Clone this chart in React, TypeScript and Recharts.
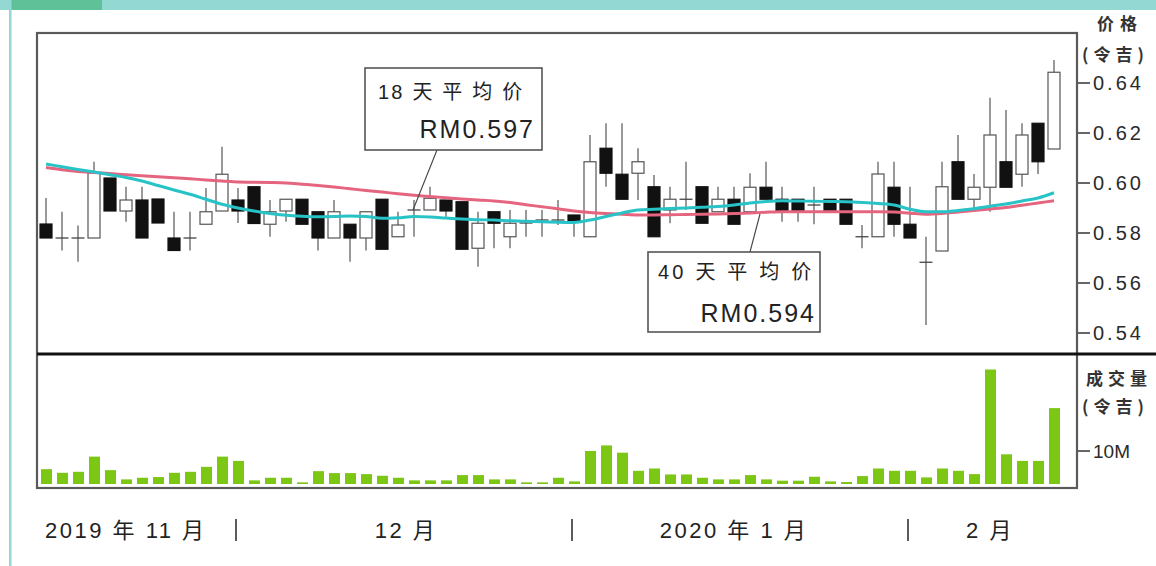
import React from 'react';
import { ComposedChart, Bar, Line, XAxis, YAxis } from 'recharts';

// ---- data ----
const sessions = [
  1, 2, 3, 4, 5, 6, 7, 8, 9, 10, 11, 12, 13, 14, 15, 16, 17, 18, 19, 20, 21, 22,
  23, 24, 25, 26, 27, 28, 29, 30, 31, 32, 33, 34, 35, 36, 37, 38, 39, 40, 41, 42,
  43, 44, 45, 46, 47, 48, 49, 50, 51, 52, 53, 54, 55, 56, 57, 58, 59, 60, 61, 62,
  63, 64,
];

const openPrice = [
  0.5836, 0.578, 0.578, 0.578, 0.602, 0.5888, 0.5932, 0.5936, 0.578, 0.578,
  0.5835, 0.5888, 0.5932, 0.5985, 0.5835, 0.5888, 0.5935, 0.5885, 0.578, 0.5835,
  0.578, 0.5935, 0.5785, 0.5892, 0.5892, 0.5932, 0.5925, 0.5739, 0.5885, 0.5785,
  0.584, 0.5852, 0.5852, 0.5872, 0.5785, 0.6139, 0.6035, 0.6039, 0.5985, 0.5892,
  0.5935, 0.5985, 0.5885, 0.5935, 0.5885, 0.5983, 0.5935, 0.5935, 0.5912, 0.5935,
  0.5935, 0.5785, 0.5785, 0.5983, 0.5835, 0.5683, 0.5728, 0.6085, 0.5935, 0.5983,
  0.6085, 0.6035, 0.6239, 0.6136,
];

const closePrice = [
  0.578, 0.578, 0.578, 0.604, 0.5888, 0.5932, 0.578, 0.584, 0.573, 0.578,
  0.5885, 0.6035, 0.5888, 0.5838, 0.5885, 0.5935, 0.5835, 0.578, 0.5885, 0.578,
  0.5885, 0.5735, 0.5832, 0.5892, 0.5939, 0.5888, 0.5735, 0.5839, 0.5839, 0.5839,
  0.584, 0.5852, 0.5852, 0.5845, 0.6085, 0.6039, 0.5935, 0.6085, 0.5785, 0.5935,
  0.5935, 0.5839, 0.5935, 0.5835, 0.5983, 0.5935, 0.5885, 0.5885, 0.5912, 0.5885,
  0.5835, 0.5785, 0.6036, 0.5835, 0.578, 0.5683, 0.5985, 0.5935, 0.5983, 0.6192,
  0.5983, 0.6192, 0.6085, 0.6443,
];

const highPrice = [
  0.594, 0.5885, 0.583, 0.6085, 0.602, 0.5985, 0.5985, 0.5936, 0.5885, 0.5885,
  0.598, 0.6145, 0.598, 0.5985, 0.5932, 0.5935, 0.5935, 0.5885, 0.5932, 0.5835,
  0.5885, 0.5935, 0.5885, 0.5932, 0.5985, 0.5932, 0.5925, 0.5885, 0.5885, 0.5892,
  0.5892, 0.5892, 0.5932, 0.5872, 0.6192, 0.6239, 0.6239, 0.6139, 0.6032, 0.5985,
  0.6085, 0.5985, 0.5985, 0.5985, 0.6039, 0.6085, 0.5985, 0.5935, 0.5985, 0.5935,
  0.5935, 0.5832, 0.6085, 0.6085, 0.5985, 0.5785, 0.6085, 0.6192, 0.6036, 0.6341,
  0.6292, 0.6239, 0.6239, 0.6492,
];

const lowPrice = [
  0.578, 0.573, 0.5685, 0.578, 0.5888, 0.5845, 0.578, 0.584, 0.573, 0.573,
  0.5835, 0.5888, 0.584, 0.5838, 0.5785, 0.5845, 0.5835, 0.573, 0.578, 0.5685,
  0.573, 0.5735, 0.5785, 0.5785, 0.5892, 0.5865, 0.5735, 0.5665, 0.5739, 0.5739,
  0.5785, 0.5785, 0.5832, 0.5785, 0.5785, 0.5985, 0.5935, 0.5932, 0.5785, 0.5839,
  0.5892, 0.5839, 0.5885, 0.5835, 0.5885, 0.5935, 0.5845, 0.5845, 0.5835, 0.5885,
  0.5835, 0.5739, 0.5785, 0.5785, 0.578, 0.5432, 0.5728, 0.5935, 0.5885, 0.5885,
  0.5983, 0.5985, 0.6036, 0.6136,
];

const ma18 = [
  0.6076, 0.6065, 0.6054, 0.6044, 0.6033, 0.6022, 0.6008, 0.599, 0.5972, 0.5955,
  0.5935, 0.5915, 0.59, 0.5888, 0.5878, 0.5871, 0.5867, 0.5865, 0.5866, 0.5868,
  0.5866, 0.5859, 0.5861, 0.5866, 0.5864, 0.586, 0.5856, 0.5853, 0.5852, 0.5849,
  0.5847, 0.5845, 0.5843, 0.5842, 0.5852, 0.5866, 0.588, 0.5892, 0.5895, 0.5898,
  0.59, 0.5903, 0.5906, 0.5912, 0.592, 0.5926, 0.5929, 0.5928, 0.5927, 0.5926,
  0.5925, 0.5922, 0.5918, 0.5912, 0.5895, 0.5885, 0.5885, 0.589, 0.5897, 0.5907,
  0.5916, 0.5928, 0.594, 0.5961,
];

const ma40 = [
  0.6062, 0.6053, 0.6046, 0.6042, 0.6038, 0.6033, 0.6029, 0.6025, 0.6021, 0.6017,
  0.6012, 0.6008, 0.6004, 0.6003, 0.6002, 0.6, 0.5995, 0.599, 0.5984, 0.5977,
  0.597, 0.5964, 0.5957, 0.5951, 0.5946, 0.5941, 0.5936, 0.5932, 0.5928, 0.5922,
  0.5913, 0.5905, 0.5897, 0.5888, 0.5882, 0.5878, 0.5875, 0.5872, 0.5872, 0.5873,
  0.5874, 0.5875, 0.5876, 0.5878, 0.588, 0.5883, 0.5885, 0.5885, 0.5885, 0.5885,
  0.5885, 0.5885, 0.5885, 0.5884, 0.5879, 0.5875, 0.5878, 0.5884, 0.589, 0.5896,
  0.5902, 0.5911, 0.592, 0.5929,
];

// volume, millions of shares
const volumeM = [
  4.5, 3.4, 3.7, 8.3, 4.2, 1.4, 1.9, 2.1, 3.4, 3.7,
  5.2, 8.3, 7, 1.1, 1.9, 1.9, 0.5, 3.9, 3.3, 3.3,
  3, 2.5, 1.9, 1.1, 1.1, 1.1, 2.7, 2.7, 1.4, 1.4,
  0.5, 0.5, 1.9, 0.8, 10, 11.7, 9.5, 4, 4.7, 2.9,
  2.9, 1.9, 1.4, 1.4, 2.7, 1.4, 1, 1, 2.2, 0.8,
  0.6, 2.4, 4.7, 4, 4, 2, 4.7, 4, 3, 34.7,
  9, 7, 7, 23,
];

const priceTicks = [0.54, 0.56, 0.58, 0.6, 0.62, 0.64];
const volumeTicks = [10];
const monthBreaks = [13, 34, 55];
const monthLabels = [
  { s: 1, text: '2019 年 11 月', anchor: 'start', dx: -1 },
  { s: 24, text: '12 月', anchor: 'middle', dx: -8 },
  { s: 44, text: '2020 年 1 月', anchor: 'middle', dx: 0 },
  { s: 60, text: '2 月', anchor: 'middle', dx: 0 },
];

// ---- layout / style ----
const W = 1156;
const H = 566;
const PLOT_L = 38;
const AXIS_W = 79;
const PRICE_TOP = 33;
const PRICE_BOTTOM = 354;
const VOL_TOP = 356;
const VOL_BOTTOM = 484;
const FONT = "'Liberation Sans', Arial, 'Noto Sans CJK SC', sans-serif";
const CJK = "'Noto Sans CJK SC', 'Liberation Sans', sans-serif";

const rows = sessions.map((s, i) => ({
  s,
  open: openPrice[i],
  high: highPrice[i],
  low: lowPrice[i],
  close: closePrice[i],
  range: [lowPrice[i], highPrice[i]],
  ma18: ma18[i],
  ma40: ma40[i],
  volume: volumeM[i],
}));

const Candle = (props: any) => {
  const { x, y, width, height, payload } = props;
  if (!payload || x == null) return null;
  const top = Math.min(y, y + height);
  const h = Math.abs(height);
  const { high, low, open, close } = payload;
  const span = high - low;
  const py = (p: number) => (span > 0 ? top + ((high - p) / span) * h : top);
  const cx = x + width / 2;
  const bw = 12;
  const yo = py(open);
  const yc = py(close);
  const bTop = Math.min(yo, yc);
  const bH = Math.abs(yc - yo);
  const up = close >= open;
  return (
    <g>
      <line x1={cx} x2={cx} y1={top} y2={top + h} stroke="#555" strokeWidth={1.2} />
      {bH < 1 ? (
        <line x1={cx - 6.5} x2={cx + 6.5} y1={yo} y2={yo} stroke="#444" strokeWidth={1.3} />
      ) : (
        <rect
          x={cx - bw / 2}
          y={bTop}
          width={bw}
          height={bH}
          fill={up ? '#ffffff' : '#111111'}
          stroke={up ? '#555' : '#111'}
          strokeWidth={1.2}
        />
      )}
    </g>
  );
};

const PriceTick = (p: any) => (
  <text x={p.x} y={p.y} dy={7} fontSize={20} fill="#2a2a2a" letterSpacing={3} fontFamily={FONT}>
    {Number(p.payload.value).toFixed(2)}
  </text>
);

const VolTick = (p: any) => (
  <text x={p.x} y={p.y} dy={7} fontSize={19} fill="#2a2a2a" fontFamily={FONT}>
    {p.payload.value}M
  </text>
);

const MonthTick = (p: any) => {
  const v = p.payload.value;
  if (monthBreaks.includes(v)) {
    return <line x1={p.x - 2} x2={p.x - 2} y1={p.y + 35} y2={p.y + 57} stroke="#333" strokeWidth={1.6} />;
  }
  const m = monthLabels.find((l) => l.s === v);
  if (!m) return null;
  return (
    <text
      x={p.x + m.dx}
      y={p.y + 54}
      textAnchor={m.anchor as any}
      fontSize={22}
      letterSpacing={2.5}
      fill="#222"
      fontFamily={FONT}
    >
      {m.text}
    </text>
  );
};

export default function App() {
  return (
    <div style={{ position: 'absolute', left: 0, top: 0, width: W, height: H, background: '#ffffff', overflow: 'hidden' }}>
      {/* price panel */}
      <div style={{ position: 'absolute', left: 0, top: 0 }}>
        <ComposedChart
          width={W}
          height={H}
          data={rows}
          margin={{ top: PRICE_TOP, right: 0, bottom: H - PRICE_BOTTOM, left: PLOT_L }}
        >
          <XAxis dataKey="s" type="category" hide padding={{ left: 0, right: 15 }} />
          <YAxis
            orientation="right"
            width={AXIS_W}
            domain={[0.5316, 0.66]}
            allowDataOverflow
            ticks={priceTicks}
            tickSize={13}
            tickMargin={3}
            tickLine={{ stroke: '#333', strokeWidth: 1.5 }}
            axisLine={{ stroke: '#444', strokeWidth: 2 }}
            tick={PriceTick}
          />
          <Bar dataKey="range" barSize={12} shape={<Candle />} isAnimationActive={false} />
          <Line dataKey="ma40" type="monotone" stroke="#e5657f" strokeWidth={3} dot={false} isAnimationActive={false} />
          <Line dataKey="ma18" type="monotone" stroke="#27c3c6" strokeWidth={3} dot={false} isAnimationActive={false} />
        </ComposedChart>
      </div>

      {/* volume panel */}
      <div style={{ position: 'absolute', left: 0, top: 0 }}>
        <ComposedChart
          width={W}
          height={H}
          data={rows}
          margin={{ top: VOL_TOP, right: 0, bottom: H - VOL_BOTTOM - 50, left: PLOT_L }}
        >
          <XAxis
            dataKey="s"
            type="category"
            height={50}
            padding={{ left: 0, right: 15 }}
            ticks={[1, 13, 24, 34, 44, 55, 60]}
            interval={0}
            tickSize={0}
            tickMargin={0}
            axisLine={false}
            tickLine={false}
            tick={MonthTick}
          />
          <YAxis
            orientation="right"
            width={AXIS_W}
            domain={[0, 38.8]}
            allowDataOverflow
            ticks={volumeTicks}
            tickSize={13}
            tickMargin={3}
            tickLine={{ stroke: '#333', strokeWidth: 1.5 }}
            axisLine={{ stroke: '#444', strokeWidth: 2 }}
            tick={VolTick}
          />
          <Bar dataKey="volume" barSize={11} fill="#7cc614" isAnimationActive={false} />
        </ComposedChart>
      </div>

      {/* frame & annotations */}
      <svg width={W} height={H} style={{ position: 'absolute', left: 0, top: 0, pointerEvents: 'none' }}>
        <rect x={0} y={0} width={W} height={10} fill="#93d8d2" />
        <rect x={10} y={0} width={92} height={10} fill="#5fc198" />
        <rect x={9} y={0} width={2.5} height={H} fill="#93d8d2" />

        <rect x={37} y={PRICE_TOP} width={1040} height={488 - PRICE_TOP} fill="none" stroke="#5a5a5a" strokeWidth={2.2} />
        <rect x={37} y={352.5} width={W - 37} height={3} fill="#111" />

        {/* axis titles */}
        <text x={1097} y={30} fontSize={17} letterSpacing={6} fill="#333" fontFamily={CJK} fontWeight={700}>价格</text>
        <text x={1082} y={61} fontSize={17} letterSpacing={5} fill="#333" fontFamily={CJK} fontWeight={700}>(令吉)</text>
        <text x={1086} y={385} fontSize={17} letterSpacing={5} fill="#333" fontFamily={CJK} fontWeight={700}>成交量</text>
        <text x={1082} y={413} fontSize={17} letterSpacing={5} fill="#333" fontFamily={CJK} fontWeight={700}>(令吉)</text>

        {/* 18-day annotation */}
        <line x1={437} y1={150} x2={413} y2={210} stroke="#444" strokeWidth={1.1} />
        <rect x={365} y={68} width={177} height={82} fill="#fff" stroke="#555" strokeWidth={1.6} />
        <text x={378} y={99} fontSize={20} letterSpacing={2.2} fill="#222" fontFamily={FONT}>18 天 平 均 价</text>
        <text x={535} y={138} textAnchor="end" fontSize={25} letterSpacing={2} fill="#222" fontFamily={FONT}>RM0.597</text>

        {/* 40-day annotation */}
        <line x1={750} y1={252} x2={760} y2={214} stroke="#444" strokeWidth={1.1} />
        <rect x={648} y={252} width={172} height={80} fill="#fff" stroke="#555" strokeWidth={1.6} />
        <text x={658} y={279} fontSize={20} letterSpacing={3.2} fill="#222" fontFamily={FONT}>40 天 平 均 价</text>
        <text x={816} y={322} textAnchor="end" fontSize={25} letterSpacing={2} fill="#222" fontFamily={FONT}>RM0.594</text>
      </svg>
    </div>
  );
}
